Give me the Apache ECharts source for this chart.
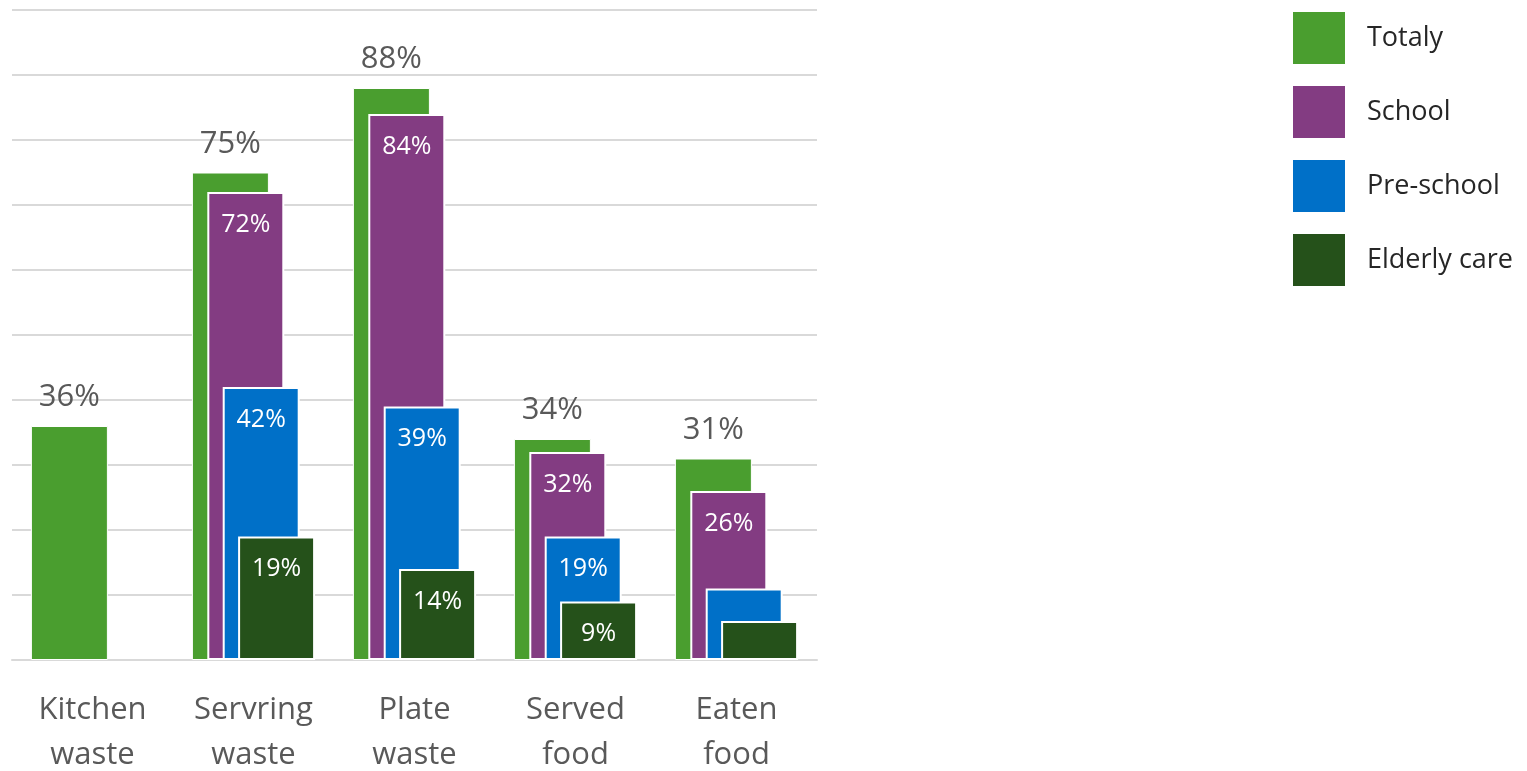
<!DOCTYPE html>
<html>
<head>
<meta charset="utf-8">
<script src="https://cdn.jsdelivr.net/npm/echarts@6/dist/echarts.min.js"></script>
<style>
html,body{margin:0;padding:0;background:#fff;}
#main{width:1527px;height:771px;}
</style>
</head>
<body>
<div id="main"></div>
<script>
var categories = ['Kitchen\nwaste', 'Servring\nwaste', 'Plate\nwaste', 'Served\nfood', 'Eaten\nfood'];
var totaly = [36, 75, 88, 34, 31];
var school = [null, 72, 84, 32, 26];
var preschool = [null, 42, 39, 19, 11];
var elderly = [null, 19, 14, 9, 6];
var yTicks = [0, 10, 20, 30, 40, 50, 60, 70, 80, 90, 100];

var font = '"Open Sans", "Noto Sans", sans-serif';

function innerSeries(name, data, color, hideIdx) {
	return {
		name: name,
		type: 'bar',
		barWidth: 77,
		barGap: '-80%',
		itemStyle: {color: color, borderColor: '#fff', borderWidth: 2},
		label: {
			show: true,
			position: 'insideTop',
			distance: 20,
			color: '#fff',
			fontSize: 25,
			fontFamily: font,
			formatter: '{c}%'
		},
		data: data.map(function(v, i) {
			if (hideIdx.indexOf(i) >= 0) return {value: v, label: {show: false}};
			return v;
		})
	};
}

var chart = echarts.init(document.getElementById('main'));
var option = {
	animation: false,
	grid: {left: 12, right: 710, top: 10, bottom: 111, outerBoundsMode: 'none', containLabel: false},
	legend: {
		orient: 'vertical',
		left: 1286,
		top: 5,
		itemWidth: 54,
		itemHeight: 54,
		itemGap: 18,
		icon: 'rect',
		textStyle: {fontSize: 27, color: '#262626', fontFamily: font, padding: [0, 0, 0, 16]},
		data: ['Totaly', 'School', 'Pre-school', 'Elderly care']
	},
	xAxis: {
		type: 'category',
		data: categories,
		axisTick: {show: false},
		axisLine: {lineStyle: {color: '#d9d9d9', width: 2}},
		axisLabel: {fontSize: 31, color: '#595959', fontFamily: font, lineHeight: 45, margin: 28}
	},
	yAxis: {
		type: 'value',
		min: yTicks[0],
		max: yTicks[yTicks.length - 1],
		interval: 10,
		axisLabel: {show: false},
		axisLine: {show: false},
		axisTick: {show: false},
		splitLine: {lineStyle: {color: '#d9d9d9', width: 2}}
	},
	series: [
		{
			name: 'Totaly',
			type: 'bar',
			barWidth: 77,
			barGap: '-80%',
			itemStyle: {color: '#4a9e2f', borderColor: '#fff', borderWidth: 1},
			label: {
				show: true,
				position: 'top',
				distance: 13,
				color: '#595959',
				fontSize: 31,
				fontFamily: font,
				formatter: '{c}%'
			},
			data: totaly
		},
		innerSeries('School', school, '#833c82', []),
		innerSeries('Pre-school', preschool, '#0070c8', [4]),
		innerSeries('Elderly care', elderly, '#25511a', [4])
	]
};
chart.setOption(option);
</script>
</body>
</html>
